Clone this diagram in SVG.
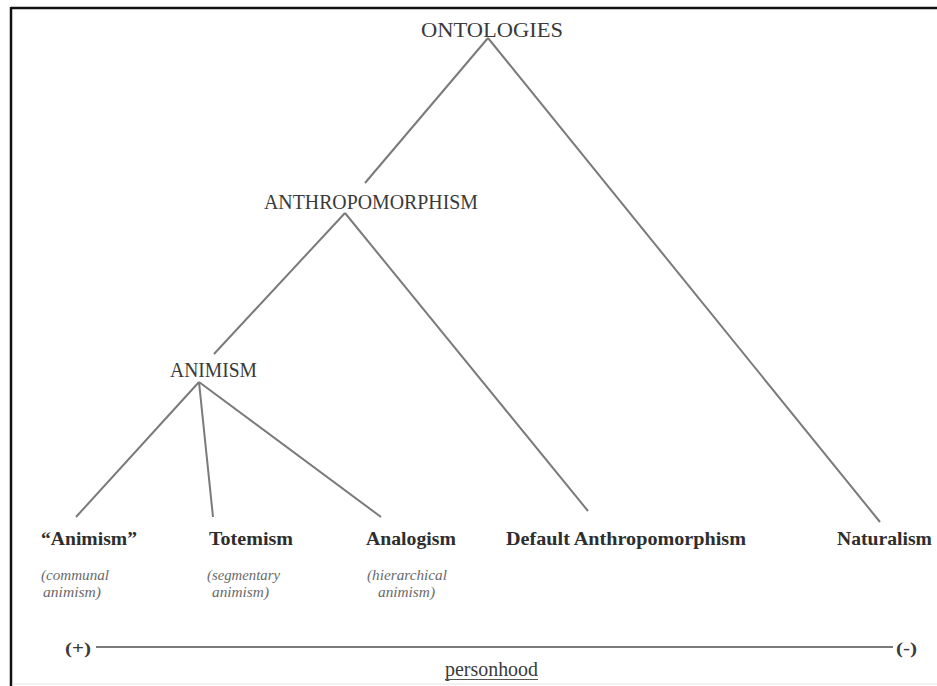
<svg xmlns="http://www.w3.org/2000/svg" width="937" height="686" viewBox="0 0 937 686">
<style>
.t{font-family:"Liberation Serif","Times New Roman",serif;fill:#3a3a3a}
.h{font-size:21px}
.b{font-size:19.5px;font-weight:bold;fill:#2e2e2e}
.i{font-size:15px;font-style:italic;fill:#6a6a6a}
.e{stroke:#7a7a7a;stroke-width:2;fill:none}
</style>
<rect width="937" height="686" fill="#fff"/>
<g id="frame">
<line x1="11" y1="8" x2="937" y2="8" stroke="#111" stroke-width="2.5"/>
<line x1="11" y1="7" x2="11" y2="686" stroke="#111" stroke-width="2.5"/>
<line x1="12" y1="684" x2="937" y2="684" stroke="#e6e6e6" stroke-width="1"/>
</g>
<g id="connectors" class="e">
<line x1="488" y1="38" x2="365" y2="183"/>
<line x1="488" y1="38" x2="880" y2="522"/>
<line x1="345" y1="213" x2="214" y2="354"/>
<line x1="345" y1="213" x2="588" y2="511"/>
<line x1="199" y1="382" x2="76" y2="517"/>
<line x1="199" y1="382" x2="213" y2="517"/>
<line x1="199" y1="382" x2="381" y2="517"/>
</g>
<g id="ontologies"><text class="t h" x="421" y="37" textLength="142" lengthAdjust="spacingAndGlyphs">ONTOLOGIES</text></g>
<g id="anthropomorphism"><text class="t h" x="264" y="209" textLength="214" lengthAdjust="spacingAndGlyphs">ANTHROPOMORPHISM</text></g>
<g id="animism"><text class="t h" x="170" y="377" textLength="87" lengthAdjust="spacingAndGlyphs">ANIMISM</text></g>
<g id="animism-leaf">
<text class="t b" x="41" y="545" textLength="96" lengthAdjust="spacingAndGlyphs">“Animism”</text>
<text class="t i" x="41" y="580" textLength="68" lengthAdjust="spacingAndGlyphs">(communal</text>
<text class="t i" x="43" y="597" textLength="58" lengthAdjust="spacingAndGlyphs">animism)</text>
</g>
<g id="totemism">
<text class="t b" x="209" y="545" textLength="84" lengthAdjust="spacingAndGlyphs">Totemism</text>
<text class="t i" x="207" y="580" textLength="73" lengthAdjust="spacingAndGlyphs">(segmentary</text>
<text class="t i" x="212" y="597" textLength="57" lengthAdjust="spacingAndGlyphs">animism)</text>
</g>
<g id="analogism">
<text class="t b" x="366" y="545" textLength="90" lengthAdjust="spacingAndGlyphs">Analogism</text>
<text class="t i" x="367" y="580" textLength="80" lengthAdjust="spacingAndGlyphs">(hierarchical</text>
<text class="t i" x="378" y="597" textLength="57" lengthAdjust="spacingAndGlyphs">animism)</text>
</g>
<g id="default-anthropomorphism"><text class="t b" x="506" y="545" textLength="240" lengthAdjust="spacingAndGlyphs">Default Anthropomorphism</text></g>
<g id="naturalism"><text class="t b" x="837" y="545" textLength="95" lengthAdjust="spacingAndGlyphs">Naturalism</text></g>
<g id="axis">
<text class="t" x="65" y="654" font-size="17" font-weight="bold" fill="#555" textLength="26" lengthAdjust="spacingAndGlyphs">(+)</text>
<line x1="96" y1="647" x2="893" y2="647" stroke="#7a7a7a" stroke-width="2"/>
<text class="t" x="896" y="654" font-size="17" font-weight="bold" fill="#555" textLength="21" lengthAdjust="spacingAndGlyphs">(-)</text>
<text class="t" x="445" y="676" font-size="20" fill="#444" textLength="93" lengthAdjust="spacingAndGlyphs">personhood</text>
<line x1="445" y1="679.5" x2="538" y2="679.5" stroke="#555" stroke-width="1.2"/>
</g>
</svg>
